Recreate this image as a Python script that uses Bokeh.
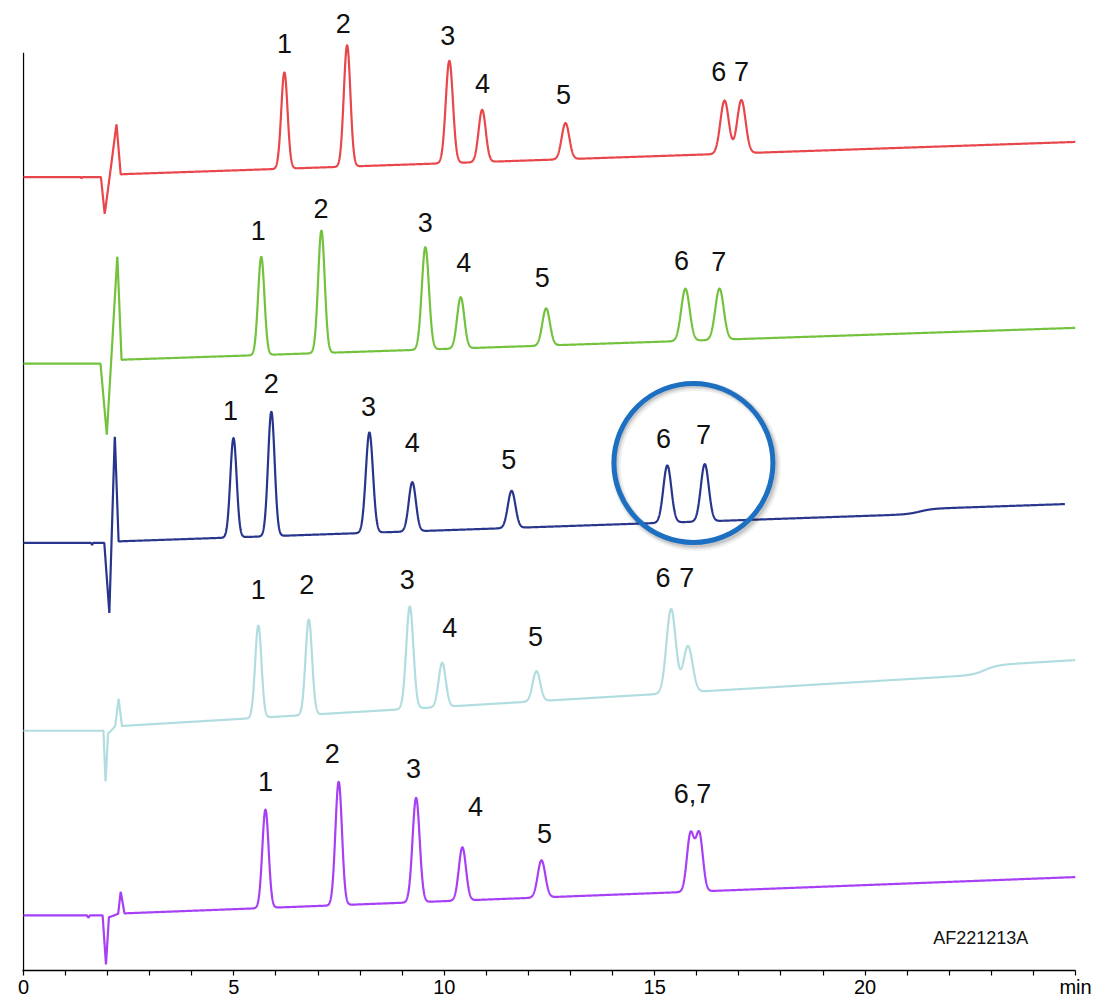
import numpy as np
from bokeh.plotting import figure
from bokeh.models import Range1d, FixedTicker, Label
from bokeh.embed import file_html
from bokeh.resources import INLINE

# ---------------- data ----------------
time_start, time_end = 0.0, 25.0
signal_min, signal_max = 0.0, 919.0
x_ticks = list(range(0, 26))
x_tick_text = {0: "0", 5: "5", 10: "10", 15: "15", 20: "20", 25: "min"}
peak_names = ["1", "2", "3", "4", "5", "6", "7"]

# Trace A (red, top)
red_base, red_drift, red_end = 795.0, 1.42, 25.0
red_step_t, red_step_h = [2.15], [2.5]
red_rt = [6.20, 7.69, 10.12, 10.90, 12.88, 16.66, 17.06]
red_h = [96, 121, 102, 52, 36, 53, 53]
red_sd = [0.075, 0.078, 0.085, 0.085, 0.09, 0.10, 0.10]
red_dist_t = [1.36, 1.38, 1.40, 1.84, 1.93, 2.21, 2.31]
red_dist_v = [0, -1.5, 0, 0, -37, 51, 0]
red_lab_t = [6.20, 7.60, 10.08, 10.91, 12.83, 16.52, 17.06]
red_lab_v = [928, 948, 936, 888, 877, 900, 900]

# Trace B (green)
grn_base, grn_drift, grn_end = 609.0, 1.40, 25.0
grn_step_t, grn_step_h = [2.15], [3.6]
grn_rt = [5.65, 7.08, 9.55, 10.39, 12.42, 15.73, 16.54]
grn_h = [98, 122, 102, 51, 37, 52, 51]
grn_sd = [0.075, 0.078, 0.085, 0.085, 0.09, 0.10, 0.10]
grn_dist_t = [1.83, 1.98, 2.23, 2.33]
grn_dist_v = [0, -71, 105, 0]
grn_lab_t = [5.58, 7.07, 9.55, 10.46, 12.33, 15.64, 16.52]
grn_lab_v = [742, 764, 750, 710, 695, 712, 711]

# Trace C (navy)
nav_base, nav_drift, nav_end = 430.3, 1.43, 24.75
nav_step_t, nav_step_h = [2.15, 21.3], [1.3, 5.0]
nav_rt = [4.99, 5.89, 8.22, 9.24, 11.60, 15.30, 16.19]
nav_h = [99, 124, 100, 49, 37, 57, 57]
nav_sd = [0.075, 0.078, 0.085, 0.085, 0.09, 0.095, 0.095]
nav_dist_t = [1.60, 1.63, 1.66, 1.92, 2.04, 2.17, 2.26]
nav_dist_v = [0, -2, 0, 0, -70, 107, 0]
nav_lab_t = [4.92, 5.89, 8.20, 9.24, 11.53, 15.21, 16.16]
nav_lab_v = [562, 589, 566, 530, 513, 534, 538]

# Trace D (light cyan)
cyn_base, cyn_drift, cyn_end = 243.0, 2.5, 25.0
cyn_step_t, cyn_step_h = [2.15, 22.85], [4.2, 9.0]
cyn_rt = [5.58, 6.78, 9.18, 9.95, 12.19, 15.39, 15.79]
cyn_h = [92, 95, 102, 44, 30, 84, 46]
cyn_sd = [0.075, 0.078, 0.085, 0.085, 0.09, 0.11, 0.11]
cyn_dist_t = [1.90, 1.95, 2.01, 2.18, 2.26, 2.34]
cyn_dist_v = [0, -52, -3, 2, 28, 0]
cyn_lab_t = [5.58, 6.73, 9.12, 10.13, 12.17, 15.20, 15.76]
cyn_lab_v = [384, 389, 394, 346, 337, 396, 396]

# Trace E (purple, bottom)
pur_base, pur_drift, pur_end = 59.0, 1.6, 25.0
pur_step_t, pur_step_h = [2.15], [1.5]
pur_rt = [5.75, 7.49, 9.33, 10.43, 12.31, 15.85, 16.06]
pur_h = [98, 123, 104, 53, 37, 57, 57]
pur_sd = [0.075, 0.078, 0.085, 0.085, 0.09, 0.085, 0.085]
pur_dist_t = [1.51, 1.54, 1.58, 1.88, 1.96, 2.03, 2.25, 2.31, 2.40]
pur_dist_v = [0, -2.5, 0, 0, -49, -2, 0, 22, 0]
pur_lab_text = ["1", "2", "3", "4", "5", "6,7"]
pur_lab_t = [5.75, 7.34, 9.27, 10.74, 12.38, 15.90]
pur_lab_v = [192, 220, 205, 167, 141, 180]

sample_id = "AF221213A"


def build(base, drift, step_t, step_h, rt, h, sd, dist_t, dist_v, t_end):
    t = np.arange(0.0, t_end + 1e-9, 0.004)
    y = base + drift * np.clip(t - 2.1, 0, None)
    for st, sh in zip(step_t, step_h):
        scale = 0.06 if st < 3 else 0.15
        y = y + sh / (1.0 + np.exp(-(t - st) / scale))
    for r, a, s in zip(rt, h, sd):
        y = y + a * np.exp(-0.5 * ((t - r) / s) ** 2)
    y = y + np.interp(t, dist_t, dist_v, left=0, right=0)
    return t, y


# frame spans from the canvas top so that labels above the signal area are not clipped
px_per_min = 42.08
x_pad = 1.0 / px_per_min
p = figure(width=1100, height=1000,
           x_range=Range1d(time_start - x_pad, time_end),
           y_range=Range1d(signal_min + 4, signal_max + 52), output_backend="svg",
           toolbar_location=None, min_border_left=22, min_border_right=25,
           min_border_top=0, min_border_bottom=29)
p.grid.visible = False
p.outline_line_color = None
p.background_fill_color = "white"
p.border_fill_color = "white"

xa = p.xaxis[0]
xa.ticker = FixedTicker(ticks=x_ticks, minor_ticks=[])
xa.major_label_overrides = {k: x_tick_text.get(k, "") for k in x_ticks}
xa.axis_line_color = "black"
xa.axis_line_width = 1.3
xa.major_tick_in = 0
xa.major_tick_out = 5
xa.major_tick_line_width = 1.2
xa.major_label_standoff = 0
xa.major_label_text_font = "Liberation Sans"
xa.major_label_text_font_size = "20px"
xa.major_label_text_color = "black"

ya = p.yaxis[0]
ya.ticker = FixedTicker(ticks=[], minor_ticks=[])
ya.axis_line_color = None
ya.major_tick_line_color = None
ya.minor_tick_line_color = None
ya.major_label_text_font_size = "0px"

# visible signal axis (vertical line at t = 0 up to the top of the signal area)
p.segment(x0=[time_start], y0=[signal_min], x1=[time_start], y1=[signal_max],
          line_color="black", line_width=1.3)

traces = [
    (red_base, red_drift, red_step_t, red_step_h, red_rt, red_h, red_sd, red_dist_t, red_dist_v, red_end, "#e8464b", peak_names, red_lab_t, red_lab_v),
    (grn_base, grn_drift, grn_step_t, grn_step_h, grn_rt, grn_h, grn_sd, grn_dist_t, grn_dist_v, grn_end, "#72c23e", peak_names, grn_lab_t, grn_lab_v),
    (nav_base, nav_drift, nav_step_t, nav_step_h, nav_rt, nav_h, nav_sd, nav_dist_t, nav_dist_v, nav_end, "#28358c", peak_names, nav_lab_t, nav_lab_v),
    (cyn_base, cyn_drift, cyn_step_t, cyn_step_h, cyn_rt, cyn_h, cyn_sd, cyn_dist_t, cyn_dist_v, cyn_end, "#b2dde0", peak_names, cyn_lab_t, cyn_lab_v),
    (pur_base, pur_drift, pur_step_t, pur_step_h, pur_rt, pur_h, pur_sd, pur_dist_t, pur_dist_v, pur_end, "#a63ff5", pur_lab_text, pur_lab_t, pur_lab_v),
]

for tr in traces:
    t, y = build(*tr[:10])
    p.line(t, y, line_color=tr[10], line_width=2.2)
    for txt, lt, lv in zip(tr[11], tr[12], tr[13]):
        p.add_layout(Label(x=lt, y=lv, text=txt, text_align="center",
                           text_baseline="middle", text_font="Liberation Sans",
                           text_font_size="27px", text_color="#111111"))

# highlight ring around peaks 6 and 7 of trace C
ring_t, ring_v = 15.92, 510
for dx, dy, w, a in [(0.06, -3, 10, 0.06), (0.05, -2.5, 7, 0.08), (0.04, -2, 5, 0.1)]:
    p.scatter([ring_t + dx], [ring_v + dy], size=160, marker="circle", fill_color=None,
              line_color="black", line_alpha=a, line_width=w)
p.scatter([ring_t], [ring_v], size=159, marker="circle", fill_color=None,
          line_color="#1c6fc1", line_width=5)

p.add_layout(Label(x=23.88, y=36, text=sample_id, text_align="right",
                   text_baseline="middle", text_font="Liberation Sans",
                   text_font_size="18px", text_color="#111111"))

open("out.html", "w").write(file_html(p, INLINE))
